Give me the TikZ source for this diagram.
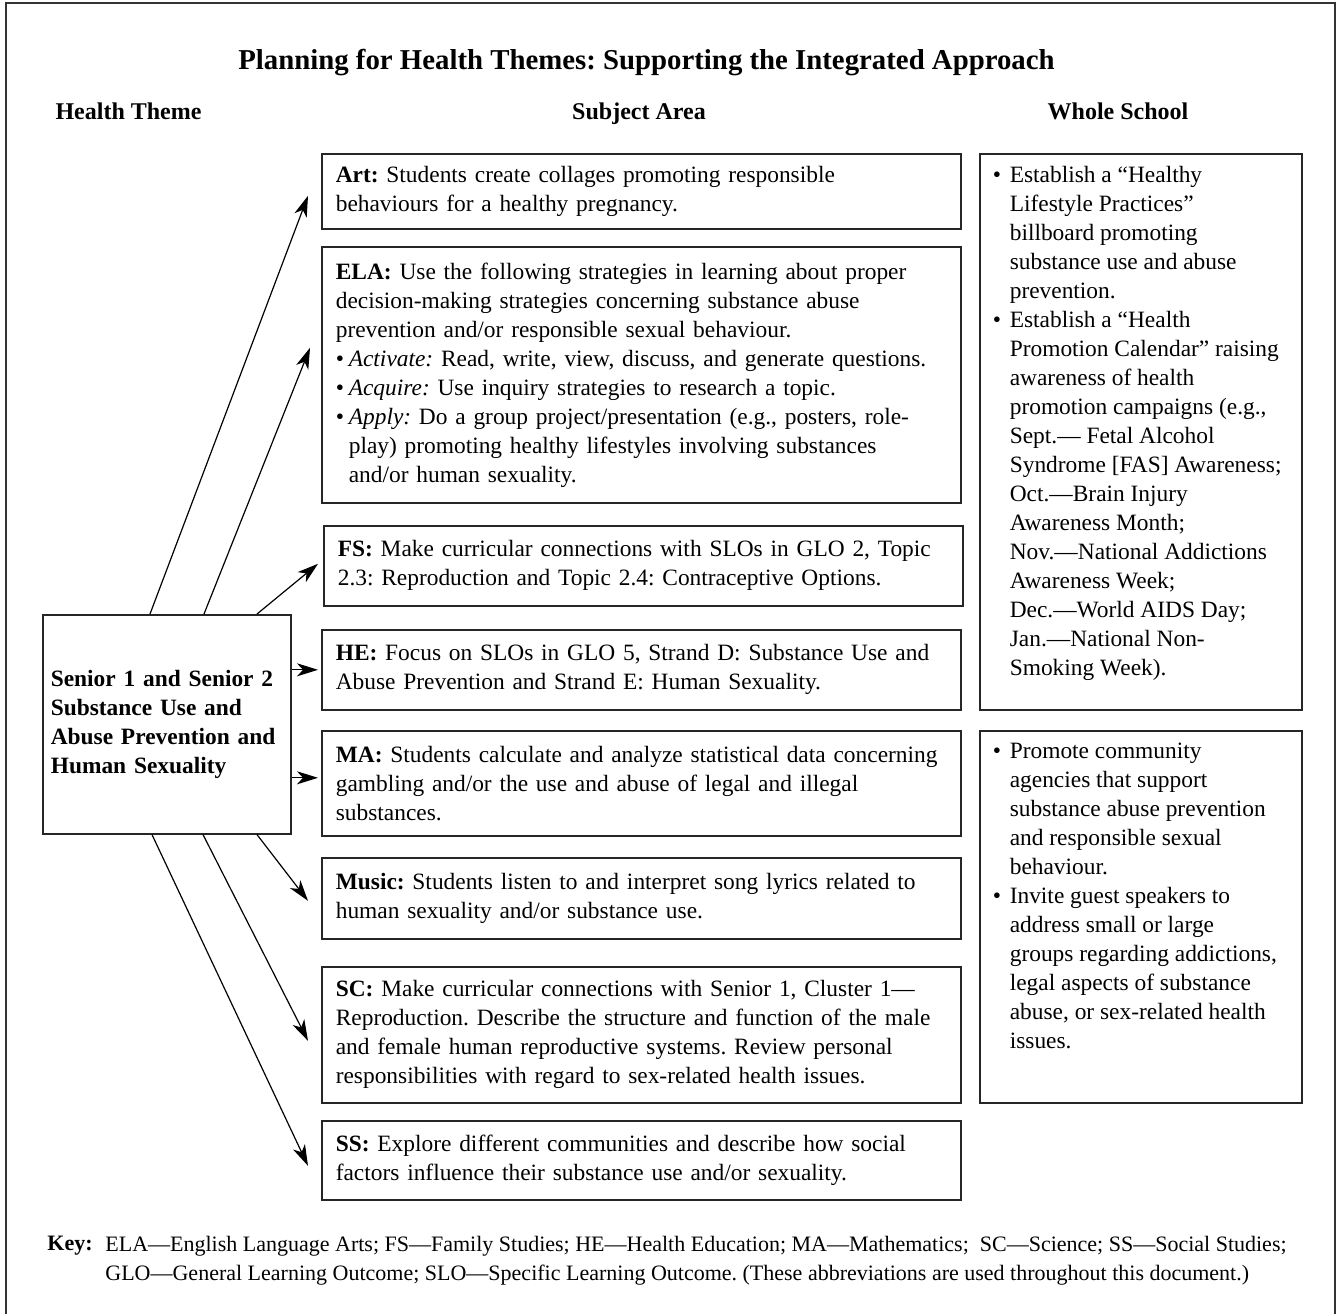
\documentclass[tikz,border=0pt]{standalone}
\usepackage{fontspec}
\setmainfont{Liberation Serif}
\usetikzlibrary{positioning,arrows.meta,calc}
\frenchspacing

% bullet and hanging indent for the box lists
\newcommand{\bl}[1][8.5pt]{\makebox[#1][l]{\textbullet}}
\newcommand{\ind}[1][8.5pt]{\hspace*{#1}}

\begin{document}
\begin{tikzpicture}[x=0.5pt, y=-0.5pt,
    every node/.style={font=\fontsize{11.7}{14.5}\selectfont},
    heading/.style={font=\fontsize{12}{14.5}\selectfont\bfseries, anchor=base},
    subject/.style={draw=black!85, line width=0.8pt, anchor=north west, align=left,
      text width=305.5pt, inner xsep=7pt, inner ysep=0pt},
    school/.style={draw=black!85, line width=0.8pt, anchor=north west,
      inner xsep=6.5pt, inner ysep=6.3pt},
    link/.style={-{Stealth[length=10.5pt,width=6.5pt,inset=3pt]}, line width=0.6pt}]

  \useasboundingbox (0,0) rectangle (1339,1314);
  \draw[line width=1pt, black!80] (6,1314) -- (6,3) -- (1335,3) -- (1335,1314);

  % titles
  \node[font=\fontsize{14.4}{17}\selectfont\bfseries, anchor=base] (title) at (646.5,69)
    {Planning for Health Themes: Supporting the Integrated Approach};
  \node[heading] (hdtheme) at (128.5,119) {Health Theme};
  \node[heading] (hdsubject) at (639,119) {Subject Area};
  \node[heading] (hdschool) at (1118,119) {Whole School};

  % health theme
  \node[draw=black!85, line width=0.8pt, anchor=north west, align=left,
    text width=116pt, inner xsep=4pt, minimum height=109.5pt,
    font=\fontsize{11.7}{14.5}\selectfont\bfseries] (main) at (42,614)
    {Senior 1 and Senior 2\\Substance Use and\\Abuse Prevention and\\Human Sexuality};

  % subject area
  \node[subject, minimum height=37.5pt] (art) at (321,153)
    {\textbf{Art:} Students create collages promoting responsible\\
     behaviours for a healthy pregnancy.};
  \node[subject, minimum height=128pt] (ela) at (321,246)
    {\textbf{ELA:} Use the following strategies in learning about proper\\
     decision-making strategies concerning substance abuse\\
     prevention and/or responsible sexual behaviour.\\
     \bl[6.5pt]\textit{Activate:} Read, write, view, discuss, and generate questions.\\
     \bl[6.5pt]\textit{Acquire:} Use inquiry strategies to research a topic.\\
     \bl[6.5pt]\textit{Apply:} Do a group project/presentation (e.g., posters, role-\\
     \ind[6.5pt]play) promoting healthy lifestyles involving substances\\
     \ind[6.5pt]and/or human sexuality.};
  \node[subject, minimum height=40pt] (fs) at (323,525)
    {\textbf{FS:} Make curricular connections with SLOs in GLO 2, Topic\\
     2.3: Reproduction and Topic 2.4: Contraceptive Options.};
  \node[subject, minimum height=40pt] (he) at (321,629)
    {\textbf{HE:} Focus on SLOs in GLO 5, Strand D: Substance Use and\\
     Abuse Prevention and Strand E: Human Sexuality.};
  \node[subject, minimum height=52.5pt] (ma) at (321,730)
    {\textbf{MA:} Students calculate and analyze statistical data concerning\\
     gambling and/or the use and abuse of legal and illegal\\
     substances.};
  \node[subject, minimum height=40.5pt] (music) at (321,857)
    {\textbf{Music:} Students listen to and interpret song lyrics related to\\
     human sexuality and/or substance use.};
  \node[subject, minimum height=68pt] (sc) at (321,966)
    {\textbf{SC:} Make curricular connections with Senior 1, Cluster 1—\\
     Reproduction. Describe the structure and function of the male\\
     and female human reproductive systems. Review personal\\
     responsibilities with regard to sex-related health issues.};
  \node[subject, minimum height=39.5pt] (ss) at (321,1120)
    {\textbf{SS:} Explore different communities and describe how social\\
     factors influence their substance use and/or sexuality.};

  % whole school
  \node[school] (school1) at (979,153)
    {\parbox[t][265.4pt][t]{148pt}{\raggedright
     \bl Establish a “Healthy\\
     \ind Lifestyle Practices”\\
     \ind billboard promoting\\
     \ind substance use and abuse\\
     \ind prevention.\\
     \bl Establish a “Health\\
     \ind Promotion Calendar” raising\\
     \ind awareness of health\\
     \ind promotion campaigns (e.g.,\\
     \ind Sept.— Fetal Alcohol\\
     \ind Syndrome [FAS] Awareness;\\
     \ind Oct.—Brain Injury\\
     \ind Awareness Month;\\
     \ind Nov.—National Addictions\\
     \ind Awareness Week;\\
     \ind Dec.—World AIDS Day;\\
     \ind Jan.—National Non-\\
     \ind Smoking Week).}};
  \node[school] (school2) at (979,730)
    {\parbox[t][173.4pt][t]{148pt}{\raggedright
     \bl Promote community\\
     \ind agencies that support\\
     \ind substance abuse prevention\\
     \ind and responsible sexual\\
     \ind behaviour.\\
     \bl Invite guest speakers to\\
     \ind address small or large\\
     \ind groups regarding addictions,\\
     \ind legal aspects of substance\\
     \ind abuse, or sex-related health\\
     \ind issues.}};

  % arrows
  \foreach \dx/\tgt/\ox/\oy in {54/art/-6.5/-2.25, 81/ela/-5.5/13.5, 107.5/fs/-2.5/1}
    \draw[link] ([xshift=\dx pt]main.north west) -- ([xshift=\ox pt, yshift=\oy pt]\tgt.west);
  \draw[link] ([yshift=27.25pt]main.east) -- ([xshift=-1.5pt]he.west);
  \draw[link] ([yshift=-26.75pt]main.east) -- ([xshift=-1.5pt, yshift=2.75pt]ma.west);
  \foreach \dx/\tgt/\ox/\oy in {107.5/music/-6.5/-1.25, 80.5/sc/-6.5/-3, 55/ss/-6.5/-2.75}
    \draw[link] ([xshift=\dx pt]main.south west) -- ([xshift=\ox pt, yshift=\oy pt]\tgt.west);

  % key
  \node[anchor=north west, inner sep=0pt, font=\fontsize{11}{14.5}\selectfont\bfseries]
    (keylbl) at (47,1236) {Key:};
  \node[anchor=north west, inner sep=0pt, align=left, font=\fontsize{11}{14.5}\selectfont]
    (keytext) at (105,1236)
    {ELA—English Language Arts; FS—Family Studies; HE—Health Education; MA—Mathematics;\ \ SC—Science; SS—Social Studies;\\
     GLO—General Learning Outcome; SLO—Specific Learning Outcome. (These abbreviations are used throughout this document.)};
\end{tikzpicture}
\end{document}
